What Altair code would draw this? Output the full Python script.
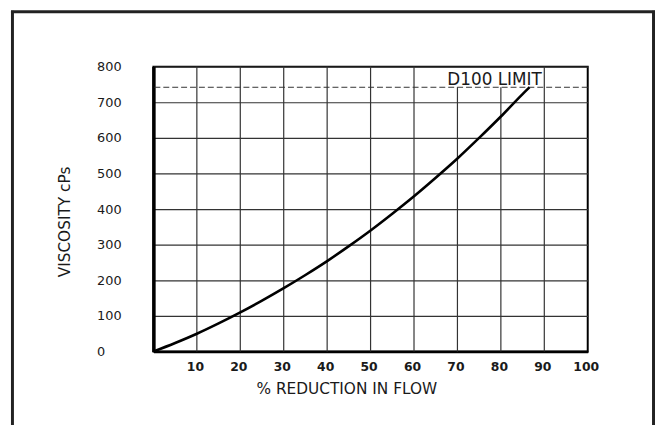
import altair as alt
import pandas as pd

# ---- data ----
flow = [0, 5, 10, 15, 20, 25, 30, 35, 40, 45, 50, 55, 60, 65, 70, 75, 80, 85, 86.6]
viscosity = [0, 24, 50, 79, 110, 143, 178, 215, 254, 296, 340, 387, 436, 488, 542, 600, 660, 723, 742]

x_ticks = [10, 20, 30, 40, 50, 60, 70, 80, 90, 100]
y_ticks = [0, 100, 200, 300, 400, 500, 600, 700, 800]
grid_x = [10, 20, 30, 40, 50, 60, 70, 80, 90]
grid_top = [800, 800, 800, 800, 800, 800, 742, 742, 800]

limit_value = [742]
limit_label = ["D100 LIMIT"]
limit_label_x = [89.4]
limit_label_y = [747]

x_title = "% REDUCTION IN FLOW"
y_title = "VISCOSITY cPs"

curve_df = pd.DataFrame({"flow": flow, "visc": viscosity})
grid_df = pd.DataFrame({"gx": grid_x, "gb": [0] * len(grid_x), "gt": grid_top})
limit_df = pd.DataFrame({"ly": limit_value})
label_df = pd.DataFrame({"lx": limit_label_x, "ly": limit_label_y, "t": limit_label})
one_df = pd.DataFrame({"k": [0]})

ink = "#1a1a1a"

xs = alt.Scale(domain=[0, 100], nice=False, zero=False)
ys = alt.Scale(domain=[0, 800], nice=False, zero=False)

xaxis = alt.Axis(
    values=x_ticks, grid=False, ticks=False, tickSize=0,
    labelFont="DejaVu Sans", labelFontSize=12.5, labelFontWeight="bold",
    labelColor=ink, labelPadding=9, labelFlush=False, labelOffset=-2,
    labelOverlap=False,
    domainColor="black", domainWidth=2.5,
    title=x_title, titleFont="DejaVu Sans", titleFontSize=15.5,
    titleFontWeight="normal", titleColor=ink,
    titleX=195, titleY=37, titleBaseline="middle", titleAlign="center",
)
yaxis = alt.Axis(
    values=y_ticks, grid=True, gridColor="#333333", gridWidth=1.2,
    ticks=False, tickSize=0,
    labelFont="DejaVu Sans", labelFontSize=13, labelColor=ink,
    labelAlign="left", labelBaseline="middle", labelPadding=57.5,
    labelFlush=False, labelOverlap=False,
    domainColor="black", domainWidth=3.5,
    title=y_title, titleFont="DejaVu Sans", titleFontSize=15.5,
    titleFontWeight="normal", titleColor=ink,
    titleX=-90, titleY=156.5, titleAngle=270,
    titleBaseline="middle", titleAlign="center",
)

grid = alt.Chart(grid_df).mark_rule(color="#333333", strokeWidth=1.2).encode(
    x=alt.X("gx:Q", scale=xs, axis=xaxis),
    y=alt.Y("gb:Q", scale=ys, axis=yaxis),
    y2="gt:Q",
)

limit = alt.Chart(limit_df).mark_rule(
    color="#333333", strokeWidth=1, strokeDash=[6, 3]
).encode(y=alt.Y("ly:Q", scale=ys, axis=yaxis))

label = alt.Chart(label_df).mark_text(
    align="right", baseline="alphabetic", font="DejaVu Sans",
    fontSize=17, color=ink,
).encode(
    x=alt.X("lx:Q", scale=xs, axis=xaxis),
    y=alt.Y("ly:Q", scale=ys, axis=yaxis),
    text="t:N",
)

curve = alt.Chart(curve_df).mark_line(
    color="black", strokeWidth=2.6, interpolate="monotone"
).encode(
    x=alt.X("flow:Q", scale=xs, axis=xaxis),
    y=alt.Y("visc:Q", scale=ys, axis=yaxis),
)

# decorative outer frame (open at the bottom, as in the reference)
frame_style = dict(color="#222222", strokeWidth=3)
frame_left = alt.Chart(one_df).mark_rule(**frame_style).encode(
    x=alt.value(-142.5), y=alt.value(-56.5), y2=alt.value(367))
frame_top = alt.Chart(one_df).mark_rule(**frame_style).encode(
    x=alt.value(-144), x2=alt.value(507), y=alt.value(-55.5))
frame_right = alt.Chart(one_df).mark_rule(**frame_style).encode(
    x=alt.value(505.5), y=alt.value(-56.5), y2=alt.value(367))

chart = alt.layer(
    grid, limit, label, curve, frame_left, frame_top, frame_right
).properties(
    width=439, height=288,
    autosize=alt.AutoSizeParams(type="none"),
    padding={"left": 147, "top": 57, "right": 68, "bottom": 72},
    background="white",
).configure_view(stroke="black", strokeWidth=2)

chart.save("out.html", embed_options={"renderer": "svg", "actions": False})
